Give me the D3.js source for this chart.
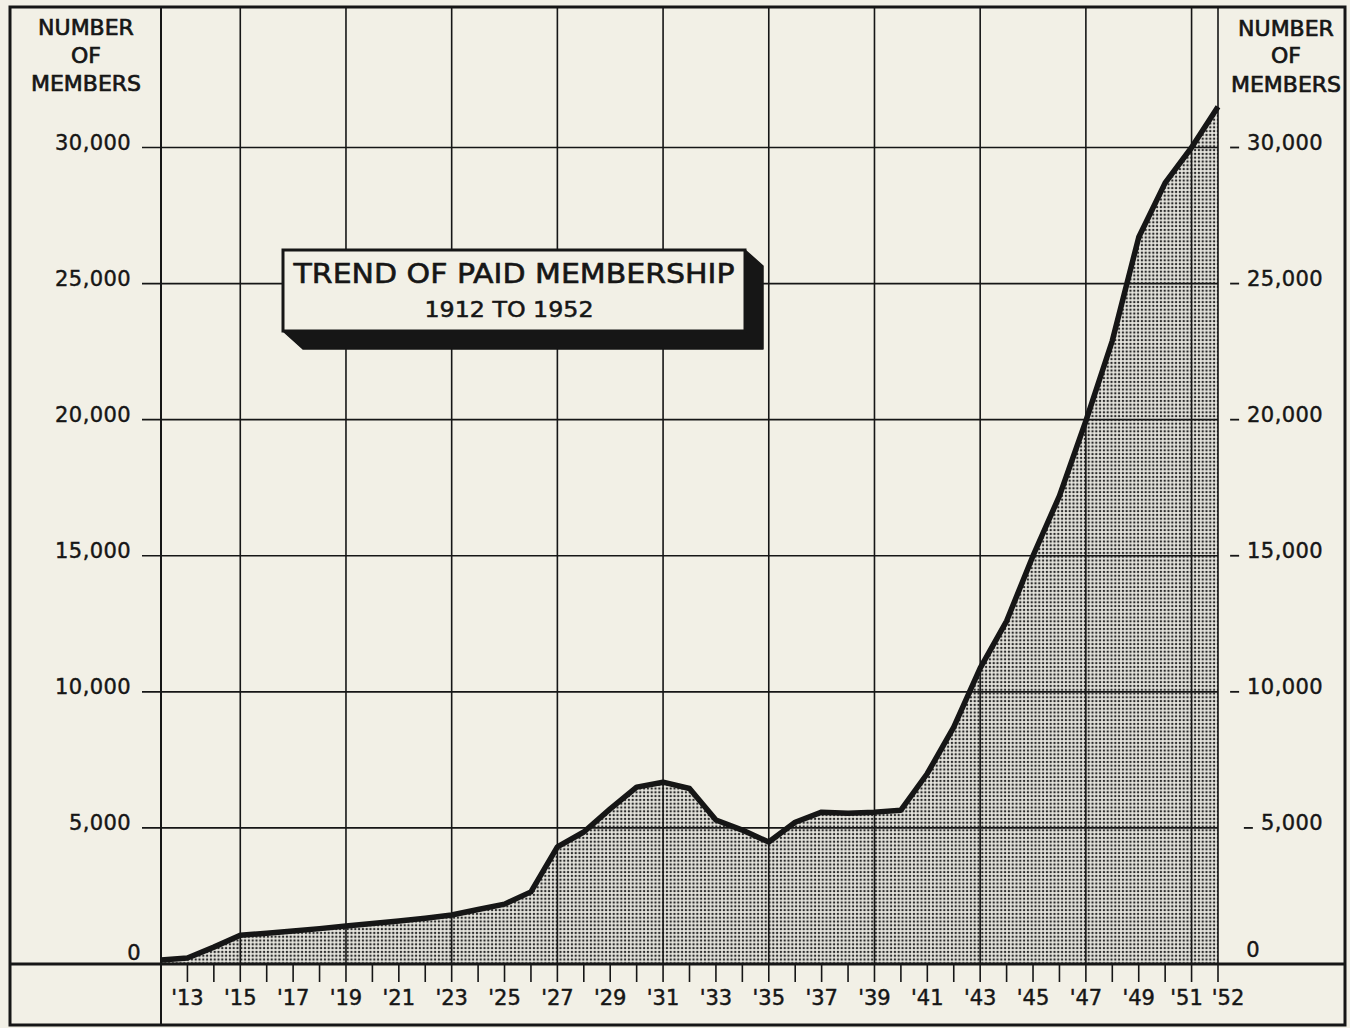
<!DOCTYPE html>
<html><head><meta charset="utf-8">
<script src="https://cdn.jsdelivr.net/npm/d3@7"></script>
<style>html,body{margin:0;padding:0;background:#f2f0e6;}svg{display:block;}</style>
</head><body>
<svg id="chart" width="1350" height="1028"></svg>
<script>
// ---- data ----
const years = d3.range(1912, 1953);
const members = [150, 220, 620, 1060, 1130, 1210, 1300, 1400, 1490, 1580,
  1680, 1800, 2000, 2200, 2650, 4300, 4850, 5700, 6500, 6680,
  6450, 5290, 4920, 4480, 5210, 5580, 5540, 5580, 5650, 7000,
  8700, 10870, 12600, 15000, 17200, 19950, 22900, 26700, 28700, 30000, 31500];
const yTicks = [0, 5000, 10000, 15000, 20000, 25000, 30000];
const gridYears = [1915, 1919, 1923, 1927, 1931, 1935, 1939, 1943, 1947, 1951, 1952];
const labelYears = [1913,1915,1917,1919,1921,1923,1925,1927,1929,1931,1933,1935,1937,1939,1941,1943,1945,1947,1949,1951,1952];
const titleLines = ["TREND OF PAID MEMBERSHIP", "1912 TO 1952"];
const axisTitle = ["NUMBER", "OF", "MEMBERS"];

const svg = d3.select("#chart");
const ink = "#161616";
const bg = "#f2f0e6";
const font = "'DejaVu Sans', sans-serif";

const x = d3.scaleLinear().domain([1912, 1952]).range([161, 1218]);
const y = d3.scaleLinear().domain([0, 30000]).range([964, 147.5]);

const defs = svg.append("defs");
const pat = defs.append("pattern").attr("id", "dots").attr("patternUnits", "userSpaceOnUse")
  .attr("width", 3.8).attr("height", 3.8);
pat.append("rect").attr("width", 3.8).attr("height", 3.8).attr("fill", "#ebeae3");
pat.append("rect").attr("x", 0.8).attr("y", 0.8).attr("width", 2.2).attr("height", 2.2).attr("fill", "#2c2c2c");

svg.append("rect").attr("width", 1350).attr("height", 1028).attr("fill", bg);

// area fill
const area = d3.area().x((d, i) => x(years[i])).y0(y(0)).y1(d => y(d));
svg.append("path").datum(members).attr("d", area).attr("fill", "url(#dots)");

// vertical grid lines
svg.append("g").selectAll("line").data(gridYears).join("line")
  .attr("x1", d => x(d)).attr("x2", d => x(d)).attr("y1", 8).attr("y2", y(0))
  .attr("stroke", ink).attr("stroke-width", 1.6);
// left axis line through full height
svg.append("line").attr("x1", x(1912)).attr("x2", x(1912)).attr("y1", 8).attr("y2", 1024)
  .attr("stroke", ink).attr("stroke-width", 2);

// horizontal grid lines
svg.append("g").selectAll("line").data(yTicks.filter(d => d > 0)).join("line")
  .attr("x1", 142).attr("x2", x(1952)).attr("y1", d => y(d)).attr("y2", d => y(d))
  .attr("stroke", ink).attr("stroke-width", 1.6);

// x axis (zero line) across full width
svg.append("line").attr("x1", 10).attr("x2", 1345).attr("y1", y(0)).attr("y2", y(0))
  .attr("stroke", ink).attr("stroke-width", 3);

// year ticks
svg.append("g").selectAll("line").data(years.slice(1)).join("line")
  .attr("x1", d => x(d)).attr("x2", d => x(d)).attr("y1", y(0)).attr("y2", 982)
  .attr("stroke", ink).attr("stroke-width", 1.6);

// year labels
const labOffset = {1951: -5, 1952: 10};
svg.append("g").selectAll("text").data(labelYears).join("text")
  .attr("x", d => x(d) + (labOffset[d] || 0)).attr("y", 1005)
  .attr("text-anchor", "middle").attr("font-family", font).attr("font-size", 21)
  .attr("fill", ink).attr("stroke", ink).attr("stroke-width", 0.45)
  .text(d => "'" + String(d).slice(2));

// data line
const line = d3.line().x((d, i) => x(years[i])).y(d => y(d));
svg.append("path").datum(members).attr("d", line).attr("fill", "none")
  .attr("stroke", ink).attr("stroke-width", 5.5).attr("stroke-linejoin", "round").attr("stroke-linecap", "butt");

// left y labels
const fmt = d3.format(",");
svg.append("g").selectAll("text").data(yTicks).join("text")
  .attr("x", d => d === 0 ? 141 : 131).attr("y", d => d === 0 ? 960 : y(d) + 2.5)
  .attr("text-anchor", "end").attr("font-family", font).attr("font-size", 21)
  .attr("letter-spacing", 0.4).attr("fill", ink).attr("stroke", ink).attr("stroke-width", 0.45)
  .text(d => fmt(d));

// right y labels
const rg = svg.append("g");
yTicks.forEach(d => {
  if (d === 0) {
    rg.append("text").attr("x", 1253).attr("y", 957).attr("text-anchor", "middle")
      .attr("font-family", font).attr("font-size", 21).attr("fill", ink)
      .attr("stroke", ink).attr("stroke-width", 0.45).text("0");
    return;
  }
  const t = rg.append("text").attr("x", 1323).attr("y", y(d) + 2.5).attr("text-anchor", "end")
    .attr("font-family", font).attr("font-size", 21).attr("letter-spacing", 0.4)
    .attr("fill", ink).attr("stroke", ink).attr("stroke-width", 0.45).text(fmt(d));
  const w = t.node().getComputedTextLength();
  const x0 = 1323 - w - 8;
  rg.append("line").attr("x1", x0 - 9).attr("x2", x0).attr("y1", y(d)).attr("y2", y(d))
    .attr("stroke", ink).attr("stroke-width", 1.8);
});

// axis titles
[[86, [35, 63, 91]], [1286, [36, 63, 92]]].forEach(([cx, ys]) => {
  axisTitle.forEach((s, i) => {
    svg.append("text").attr("x", cx).attr("y", ys[i]).attr("text-anchor", "middle")
      .attr("font-family", font).attr("font-size", 22).attr("fill", ink)
      .attr("stroke", ink).attr("stroke-width", 0.7).text(s);
  });
});

// title box with 3D shadow
const bx0 = 283, by0 = 250, bx1 = 745, by1 = 331, dep = 18;
svg.append("polygon")
  .attr("points", [[bx0, by1], [bx1, by1], [bx1, by0], [bx1 + dep, by0 + dep - 2], [bx1 + dep, by1 + dep], [bx0 + dep + 2, by1 + dep]].map(p => p.join(",")).join(" "))
  .attr("fill", ink).attr("stroke", ink).attr("stroke-width", 1.5).attr("stroke-linejoin", "round");
svg.append("rect").attr("x", bx0).attr("y", by0).attr("width", bx1 - bx0).attr("height", by1 - by0)
  .attr("fill", bg).attr("stroke", ink).attr("stroke-width", 3);
svg.append("text").attr("x", 514).attr("y", 283).attr("text-anchor", "middle")
  .attr("font-family", font).attr("font-size", 27).attr("fill", ink)
  .attr("stroke", ink).attr("stroke-width", 0.6)
  .attr("textLength", 441).attr("lengthAdjust", "spacingAndGlyphs").text(titleLines[0]);
svg.append("text").attr("x", 509).attr("y", 317).attr("text-anchor", "middle")
  .attr("font-family", font).attr("font-size", 21).attr("fill", ink)
  .attr("stroke", ink).attr("stroke-width", 0.5)
  .attr("textLength", 169).attr("lengthAdjust", "spacingAndGlyphs").text(titleLines[1]);

// outer frame
svg.append("rect").attr("x", 10).attr("y", 7).attr("width", 1335).attr("height", 1018)
  .attr("fill", "none").attr("stroke", ink).attr("stroke-width", 3);
</script>
</body></html>
